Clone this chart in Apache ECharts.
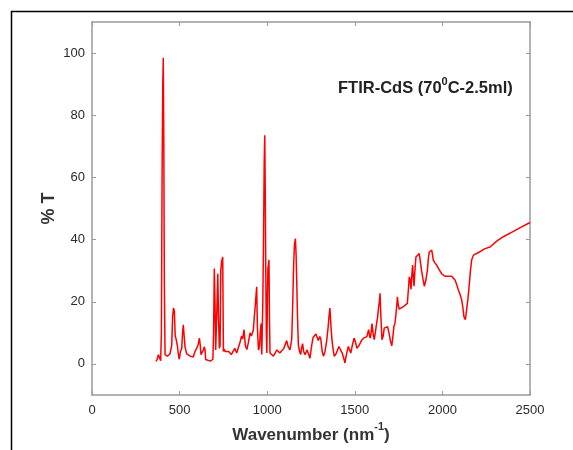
<!DOCTYPE html>
<html>
<head>
<meta charset="utf-8">
<script src="https://cdn.jsdelivr.net/npm/echarts@6/dist/echarts.min.js"></script>
<style>html,body{margin:0;padding:0;background:#fff;}#c{width:573px;height:450px;}</style>
</head>
<body>
<div id="c"></div>
<script>
// Wavenumber (x) and % T (y)
const wavenumber = [365,372,379,386,392,396,400,404,407,410,413,417,430,445,455,460,465,470,475,480,487,492,498,505,512,517,521,526,531,540,550,560,569,578,588,597,605,613,618,622,630,636,641,645,649,660,675,683,690,694,698,702,706,710,714,718,722,727,731,735,740,746,750,754,760,770,780,788,795,805,815,826,835,845,854,860,868,875,884,893,902,910,921,926,931,936,940,944,950,956,960,965,969,975,979,983,986,989,992,995,998,1001,1004,1008,1010,1013,1016,1025,1035,1045,1055,1063,1072,1082,1095,1111,1120,1130,1140,1146,1150,1155,1161,1165,1168,1173,1178,1185,1191,1196,1202,1208,1216,1228,1235,1244,1254,1262,1270,1278,1285,1292,1300,1306,1314,1321,1330,1340,1348,1354,1358,1364,1370,1378,1383,1395,1409,1418,1428,1436,1444,1452,1463,1470,1477,1486,1496,1504,1512,1525,1538,1550,1560,1569,1574,1579,1584,1588,1593,1598,1604,1611,1617,1623,1630,1636,1640,1644,1649,1655,1662,1668,1677,1687,1695,1703,1711,1718,1723,1729,1735,1740,1743,1748,1754,1765,1777,1788,1800,1806,1811,1816,1821,1826,1830,1834,1838,1843,1849,1858,1868,1874,1881,1890,1897,1901,1906,1914,1920,1925,1932,1939,1944,1948,1957,1967,1980,1996,2005,2015,2035,2053,2063,2072,2082,2091,2100,2110,2117,2123,2131,2138,2146,2154,2160,2167,2177,2186,2211,2240,2272,2310,2350,2400,2450,2500];
const transmittance = [0.8,1.5,3,2.5,1,10,60,90,98.5,70,25,3,2.5,3.2,6,15,18,17,9,8,6,3.5,1.5,4,5,10,12.6,9,5.5,3.3,2.8,2.5,2,2.2,4,5,6,8.3,6,3,3.5,4.5,5.5,4.5,1.4,0.8,0.9,1,1.5,10,30.7,20,4.5,5,20,29,15,5,6,30,33,34.4,4,4.8,4,3.5,4,4.6,3,3.5,5,3.5,4,7,9,8,11,6,4.6,7,10,9,11,15,18,22,24.8,12,4.5,5.7,9.6,13,3,20,40,65,73.6,55,29,10,3.5,20,31,32,33.5,15,3.5,3,2.5,3.5,4.5,5,3.5,3,5,7.5,5.5,4.5,8,20,30,38,40.3,35,28,15,6,4,3,5,6.5,4,3,4.5,4,1.8,6,8.5,8,9.6,9.4,7.5,8.8,8,4,2.5,4,7.6,12,16,18,12,7.5,4,2.4,3.5,5.6,5,3.5,2,0.3,3,5.6,5,3.5,6,8.3,7,5,6,7.5,8.3,8,8.8,10,11,9,8.3,10,13,10,7.8,10,12.5,15,18.3,20,22.7,15,7.8,9,11.5,12,12,10,7.5,5.8,9,12,13,16,19,21.6,19,17.6,18,18.4,19,19.5,24,28,27,24,29,31.8,28,25,30,34.4,35,35.5,33,30,27,25,24.8,27,30,34,36,36.5,36.6,35,33.4,32.5,31.8,30.5,29,28.5,28.2,28.2,28.2,27.8,27,25.5,23.8,22.5,20.6,18,15.2,14.2,17.4,21,26,30,33.4,35,35.2,36,37,37.6,39.5,41,42.5,44,45.5];
const yTicks = [0,20,40,60,80,100];
const xTicks = [0,500,1000,1500,2000,2500];

const seriesData = wavenumber.map((w,i)=>[w, transmittance[i]]);
const axisGray = '#9a9a9a';
const font = 'Liberation Sans, Arial, sans-serif';

const chart = echarts.init(document.getElementById('c'));
chart.setOption({
  animation:false,
  backgroundColor:'#fff',
  grid:{left:92, right:43, top:22, bottom:55},
  xAxis:[{
    type:'value', min:0, max:2500, interval:500, position:'bottom',
    name:'{b|Wavenumber (nm}{s|-1}{b|)}', nameLocation:'middle', nameGap:26,
    nameTextStyle:{rich:{
      b:{fontFamily:font, fontWeight:'bold', fontSize:17, color:'#333', verticalAlign:'bottom', lineHeight:22},
      s:{fontFamily:font, fontWeight:'bold', fontSize:11, color:'#333', verticalAlign:'top', lineHeight:22, padding:[0,0,9,0]}
    }},
    axisLine:{show:true, onZero:false, lineStyle:{color:axisGray, width:1.5}},
    axisTick:{show:true, inside:true, length:4, lineStyle:{color:axisGray}},
    axisLabel:{fontFamily:font, fontSize:13, color:'#2a2a2a', margin:9, customValues:xTicks, formatter:(v)=>String(v)},
    splitLine:{show:false}
  },{
    type:'value', min:0, max:2500, interval:500, position:'top',
    axisLine:{show:true, onZero:false, lineStyle:{color:axisGray, width:1.5}},
    axisTick:{show:true, inside:true, length:4, lineStyle:{color:axisGray}},
    axisLabel:{show:false}, splitLine:{show:false}
  }],
  yAxis:[{
    type:'value', min:-10, max:110, position:'left',
    name:'% T', nameLocation:'middle', nameGap:34, nameRotate:90, nameMoveOverlap:false,
    nameTextStyle:{fontFamily:font, fontWeight:'bold', fontSize:18, color:'#333'},
    axisLine:{show:true, onZero:false, lineStyle:{color:axisGray, width:1.5}},
    axisTick:{show:true, inside:true, length:4, lineStyle:{color:axisGray}, customValues:yTicks},
    axisLabel:{fontFamily:font, fontSize:13, color:'#2a2a2a', margin:7, customValues:yTicks, formatter:(v)=>String(v)},
    splitLine:{show:false}
  },{
    type:'value', min:-10, max:110, position:'right',
    axisLine:{show:true, onZero:false, lineStyle:{color:axisGray, width:1.5}},
    axisTick:{show:true, inside:true, length:4, lineStyle:{color:axisGray}, customValues:yTicks},
    axisLabel:{show:false, customValues:yTicks}, splitLine:{show:false}
  }],
  series:[{
    type:'line', xAxisIndex:0, yAxisIndex:0, data:seriesData,
    showSymbol:false, symbol:'none', smooth:false,
    lineStyle:{color:'#ff0000', width:1.5}
  }],
  graphic:[
    {type:'rect', left:9, top:9, shape:{x:0,y:0,width:600,height:500},
     style:{fill:null, stroke:'#000', lineWidth:1.5}, silent:true, z:100},
    {type:'text', left:338, top:76, z:100,
     style:{text:'{b|FTIR-CdS (70}{s|0}{b|C-2.5ml)}',
       rich:{
         b:{fontFamily:font, fontWeight:'bold', fontSize:16.5, fill:'#222', verticalAlign:'bottom', lineHeight:21},
         s:{fontFamily:font, fontWeight:'bold', fontSize:11, fill:'#222', verticalAlign:'top', lineHeight:21, padding:[0,0,8,0]}
       }}}
  ]
});
</script>
</body>
</html>
